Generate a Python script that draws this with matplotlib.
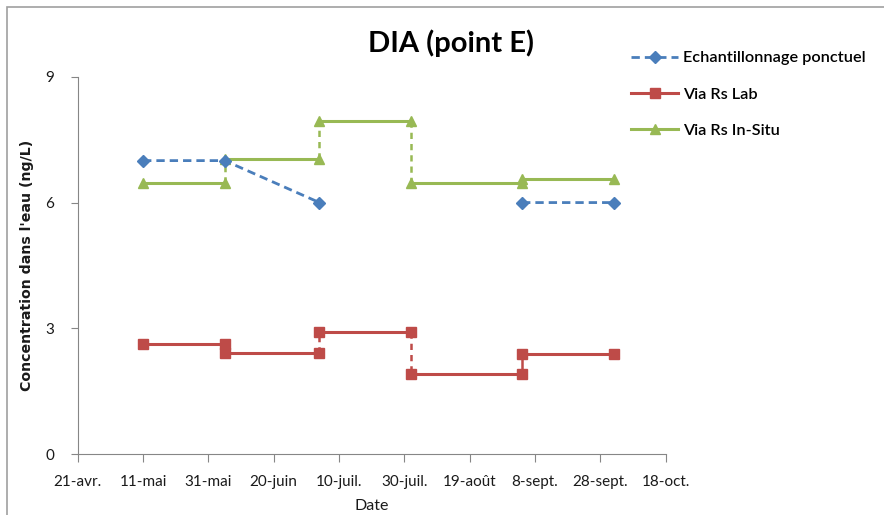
"""
DIA (point E) - concentrations dans l'eau
"""

import numpy as np
import pandas as pd
import matplotlib
matplotlib.use("Agg")
import matplotlib.pyplot as plt
from matplotlib.lines import Line2D
from matplotlib.patches import Rectangle


# Données
dates = pd.to_datetime(["2014-05-11", "2014-06-05", "2014-07-04",
                        "2014-08-01", "2014-09-04", "2014-10-02"])

# échantillonnage ponctuel : une valeur par date
ponctuel = [7.0, 7.0, 6.0, np.nan, 6.0, 6.0]

# échantillonneurs passifs : une valeur par période d'exposition
rs_lab = [2.63, 2.41, 2.91, 1.91, 2.38]
rs_insitu = [6.46, 7.04, 7.95, 6.46, 6.57]

tick_dates = pd.date_range("2014-04-21", periods=10, freq="20D")
tick_labels = ["21-avr.", "11-mai", "31-mai", "20-juin", "10-juil.",
               "30-juil.", "19-août", "8-sept.", "28-sept.", "18-oct."]

BLUE = "#4a7ebb"
RED = "#be4b48"
GREEN = "#98b954"
AXIS_GREY = "#868686"
TXT = "#1a1a1a"

plt.rcParams["font.family"] = ["Lato", "DejaVu Sans"]


def draw_steps(ax, values, color, marker, ms, solid_joints=()):
    """paliers horizontaux pleins, raccords verticaux en tirets"""
    for i in range(1, len(values)):
        ls = "-" if i in solid_joints else (0, (2.5, 2))
        ax.plot([dates[i], dates[i]], [values[i - 1], values[i]],
                color=color, lw=1.8, ls=ls, zorder=2)
    for i, v in enumerate(values):
        ax.plot(dates[i:i + 2], [v, v], color=color, lw=2.2,
                marker=marker, ms=ms, zorder=3)


fig = plt.figure(figsize=(8.84, 5.15), dpi=100)
ax = fig.add_axes([77.7 / 884, 1 - 454.3 / 515,
                   (665.8 - 77.7) / 884, (454.3 - 76.7) / 515])

# cadre extérieur
fig.patches.append(Rectangle((7 / 884, -0.1), 1.2, 1 - 7 / 515 + 0.1,
                             transform=fig.transFigure, fill=False,
                             edgecolor="#a0a0a0", lw=1.2))

ax.plot(dates, ponctuel, color=BLUE, lw=2, ls=(0, (3, 1.8)),
        marker="D", ms=6.5, zorder=4)
draw_steps(ax, rs_lab, RED, "s", 7, solid_joints=(1, 4))
draw_steps(ax, rs_insitu, GREEN, "^", 7.5, solid_joints=(4,))

ax.set_xlim(tick_dates[0], tick_dates[-1])
ax.set_ylim(0, 9)
ax.set_xticks(tick_dates)
ax.set_xticklabels(tick_labels, fontsize=11, color=TXT)
ax.set_yticks([0, 3, 6, 9])
ax.tick_params(axis="y", labelsize=11, labelcolor=TXT, color=AXIS_GREY,
               length=5, pad=12)
ax.tick_params(axis="x", color=AXIS_GREY, length=6, pad=9)

for side in ["top", "right"]:
    ax.spines[side].set_visible(False)
for side in ["left", "bottom"]:
    ax.spines[side].set_color(AXIS_GREY)

ax.set_xlabel("Date", fontsize=11.5, color=TXT, labelpad=7)
ax.set_ylabel("Concentration dans l'eau (ng/L)", fontsize=10.2,
              fontweight="bold", family="DejaVu Sans", color=TXT,
              labelpad=8)

fig.text(451 / 884, 1 - 43 / 515, "DIA (point E)", fontsize=21,
         fontweight="bold", color="black", ha="center", va="center")

handles = [
    Line2D([], [], color=BLUE, lw=2, ls=(0, (3, 1.8)), marker="D", ms=6),
    Line2D([], [], color=RED, lw=2.2, marker="s", ms=7),
    Line2D([], [], color=GREEN, lw=2.2, marker="^", ms=7),
]
labels = ["Echantillonnage ponctuel", "Via Rs Lab", "Via Rs In-Situ"]
fig.legend(handles, labels, loc="upper left",
           bbox_to_anchor=(631 / 884, 1 - 51 / 515),
           frameon=False, handlelength=2.9,
           handletextpad=0.3, labelspacing=1.35, borderpad=0,
           borderaxespad=0, prop={"size": 11.7, "weight": "semibold"})

fig.savefig("out.png", dpi=100)
